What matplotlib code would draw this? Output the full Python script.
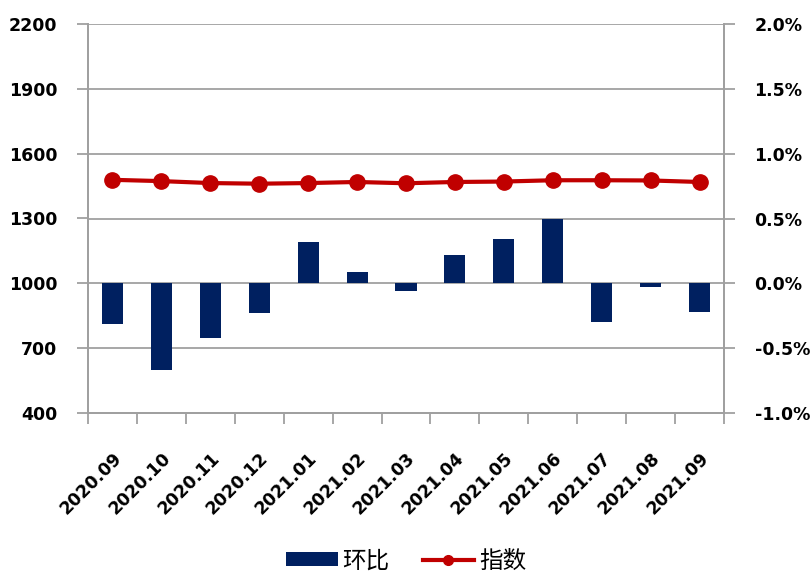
import matplotlib
matplotlib.use("Agg")
import matplotlib.pyplot as plt
from matplotlib.ticker import FixedLocator, FuncFormatter
from matplotlib.lines import Line2D
from matplotlib.patches import Patch
import numpy as np

plt.rcParams['font.family'] = ['DejaVu Sans', 'Noto Sans CJK SC']

categories = ["2020.09", "2020.10", "2020.11", "2020.12", "2021.01", "2021.02", "2021.03",
              "2021.04", "2021.05", "2021.06", "2021.07", "2021.08", "2021.09"]
mom_pct = [-0.31, -0.67, -0.42, -0.23, 0.32, 0.09, -0.06, 0.22, 0.34, 0.50, -0.30, -0.03, -0.22]
index_vals = [1479, 1473, 1464, 1461, 1464, 1469, 1463, 1469, 1471, 1477, 1477, 1476, 1469]
left_ticks = [400, 700, 1000, 1300, 1600, 1900, 2200]
right_ticks = [-1.0, -0.5, 0.0, 0.5, 1.0, 1.5, 2.0]

bar_color = "#002060"
line_color = "#C00000"
grid_color = "#A0A0A0"

fig = plt.figure(figsize=(8.12, 5.74), dpi=100)
ax1 = fig.add_axes([88/812, 1-413/574, (724-88)/812, (413-24)/574])
ax2 = ax1.twinx()
ax1.set_zorder(ax2.get_zorder() + 1)
ax1.patch.set_visible(False)

x = np.arange(len(categories))

ax2.bar(x, mom_pct, width=0.43, color=bar_color, zorder=3)
ax2.set_ylim(-1.0, 2.0)
ax2.yaxis.set_major_locator(FixedLocator(right_ticks))
ax2.yaxis.set_major_formatter(FuncFormatter(lambda v, p: f"{v:.1f}%"))

ax1.plot(x, index_vals, color=line_color, lw=3, marker='o', ms=11, zorder=4)
ax1.set_ylim(400, 2200)
ax1.yaxis.set_major_locator(FixedLocator(left_ticks))
ax1.set_xlim(-0.5, len(categories) - 0.5)

# horizontal gridlines at the left-axis ticks, behind bars
for t in left_ticks[1:]:
    ax2.axhline((t - 1000) / 300 * 0.5, color=grid_color, lw=1.3, zorder=1)

ax1.set_xticks(x)
ax1.set_xticklabels(categories, rotation=45, ha='right', va='top', rotation_mode='anchor',
                    fontsize=12.5, fontweight='bold')
ax1.set_xticks(np.arange(-0.5, len(categories)), minor=True)
ax1.tick_params(axis='x', which='major', length=0, pad=26)
ax1.tick_params(axis='x', which='minor', length=8, color=grid_color, width=1.3)
ax1.tick_params(axis='y', length=8, color=grid_color, width=1.3, pad=14, labelsize=12.5)
ax2.tick_params(axis='y', length=8, color=grid_color, width=1.3, pad=14, labelsize=12.5)
for lab in ax1.get_yticklabels() + ax2.get_yticklabels():
    lab.set_fontweight('bold')

for ax in (ax1, ax2):
    for s in ax.spines.values():
        s.set_color(grid_color)
        s.set_linewidth(1.3)
    ax.spines['top'].set_visible(False)
ax2.tick_params(axis='x', length=0)

handles = [Patch(facecolor=bar_color, label="环比"),
           Line2D([0], [0], color=line_color, lw=3, marker='o', ms=7, label="指数")]
fig.legend(handles=handles, loc='center', bbox_to_anchor=(0.5, 1-561/574), ncol=2,
           frameon=False, prop={'family': ['Noto Sans CJK SC'], 'size': 17},
           handlelength=2.2, handleheight=0.5, columnspacing=1.4, handletextpad=0.2)

fig.savefig("out.png", dpi=100)
